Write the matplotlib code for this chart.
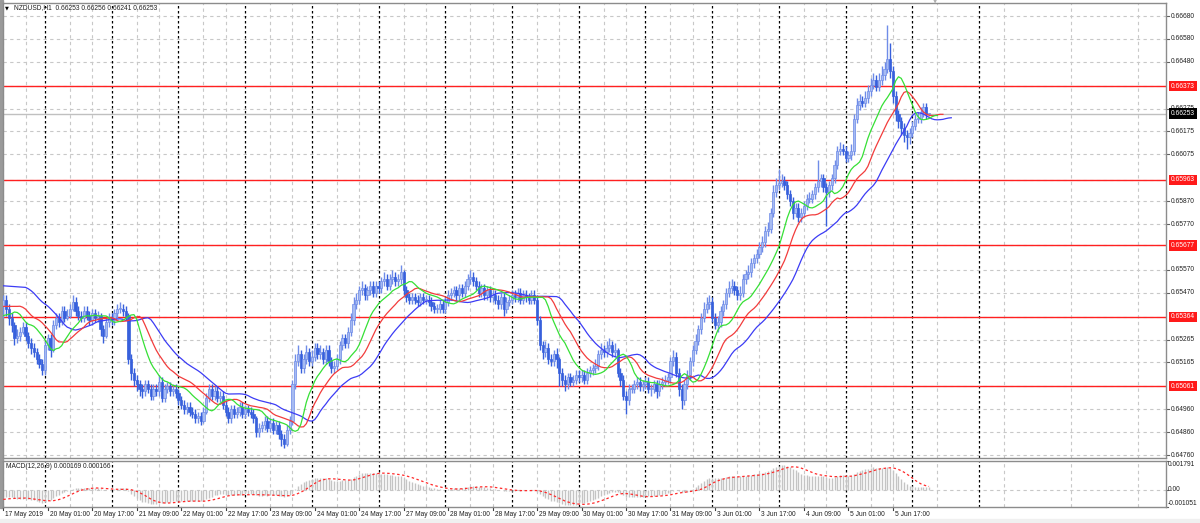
import numpy as np
import matplotlib
matplotlib.use("Agg")
import matplotlib.pyplot as plt
import matplotlib.transforms as mtransforms
from matplotlib.patches import Rectangle

plt.rcParams['font.family'] = ['Liberation Sans', 'DejaVu Sans']

# NZDUSD H1, 17 May 2019 09:00 .. 6 Jun 2019
first_open = 0.6541
closes = [
    .6544, .6540, .6536, .6533, .6527, .6528, .6530, .6532, .6528, .6525,
    .6523, .6521, .6518, .6516, .6513, .6524, .6527, .6522, .6533, .6536,
    .6534, .6539, .6536, .6537, .6540, .6543, .6539, .6537, .6536, .6539,
    .6537, .6535, .6538, .6536, .6537, .6531, .6528, .6534, .6536, .6535,
    .6538, .6540, .6540, .6539, .6537, .6518, .6512, .6509, .6507, .6505,
    .6504, .6507, .6505, .6502, .6505, .6504, .6508, .6501, .6505, .6506,
    .6504, .6505, .6503, .6500, .6498, .6496, .6497, .6495, .6494, .6492,
    .6493, .6491, .6495, .6501, .6505, .6502, .6504, .6501, .6502, .6498,
    .6495, .6492, .6496, .6494, .6495, .6497, .6494, .6496, .6495, .6494,
    .6492, .6486, .6488, .6489, .6491, .6488, .6490, .6487, .6489, .6485,
    .6483, .6481, .6487, .6491, .6507, .6517, .6520, .6514, .6518, .6521,
    .6517, .6519, .6523, .6520, .6521, .6518, .6522, .6517, .6514, .6515,
    .6518, .6524, .6527, .6525, .6530, .6535, .6542, .6544, .6548, .6549,
    .6546, .6548, .6550, .6547, .6550, .6549, .6552, .6553, .6550, .6553,
    .6554, .6552, .6553, .6556, .6548, .6545, .6544, .6545, .6544, .6543,
    .6545, .6544, .6544, .6543, .6541, .6540, .6540, .6542, .6540, .6543,
    .6546, .6547, .6548, .6546, .6549, .6547, .6550, .6553, .6554, .6552,
    .6550, .6547, .6549, .6546, .6548, .6545, .6546, .6544, .6542, .6545,
    .6540, .6543, .6544, .6546, .6545, .6547, .6544, .6546, .6545, .6544,
    .6546, .6544, .6535, .6524, .6521, .6523, .6518, .6517, .6520, .6518,
    .6512, .6509, .6507, .6510, .6508, .6509, .6511, .6510, .6511, .6509,
    .6512, .6513, .6514, .6515, .6520, .6522, .6521, .6523, .6524, .6521,
    .6522, .6512, .6509, .6502, .6500, .6505, .6505, .6507, .6508, .6506,
    .6507, .6508, .6505, .6505, .6507, .6504, .6507, .6508, .6509, .6510,
    .6517, .6519, .6512, .6505, .6500, .6507, .6511, .6517, .6522, .6526,
    .6531, .6536, .6540, .6542, .6543, .6536, .6533, .6534, .6539, .6542,
    .6547, .6549, .6550, .6548, .6546, .6547, .6553, .6555, .6556, .6560,
    .6562, .6564, .6567, .6569, .6574, .6575, .6582, .6591, .6594, .6595,
    .6596, .6594, .6590, .6587, .6582, .6584, .6580, .6582, .6585, .6588,
    .6588, .6590, .6593, .6596, .6597, .6593, .6591, .6594, .6597, .6603,
    .6609, .6610, .6609, .6606, .6607, .6609, .6623, .6629, .6631, .6630,
    .6632, .6635, .6638, .6640, .6637, .6640, .6642, .6645, .6649, .6644,
    .6633, .6625, .6622, .6619, .6616, .6615, .6617, .6620, .6623, .6623,
    .6626, .6628, .66253, .66253,
]
highs = [
    .6546, .6546, .6542, .6538, .6534, .6531, .6532, .6534, .6534, .6530,
    .6527, .6525, .6523, .6520, .6518, .6526, .6529, .6529, .6535, .6538,
    .6538, .6541, .6541, .6540, .6542, .6546, .6545, .6541, .6539, .6541,
    .6541, .6539, .6540, .6540, .6539, .6538, .6533, .6536, .6538, .6538,
    .6540, .6542, .6543, .6542, .6541, .6538, .6520, .6514, .6511, .6509,
    .6507, .6509, .6509, .6507, .6507, .6507, .6511, .6510, .6507, .6508,
    .6508, .6507, .6507, .6505, .6502, .6500, .6499, .6499, .6497, .6496,
    .6495, .6495, .6497, .6503, .6507, .6507, .6506, .6506, .6504, .6504,
    .6500, .6497, .6498, .6498, .6497, .6499, .6499, .6498, .6498, .6497,
    .6496, .6493, .6490, .6491, .6493, .6493, .6492, .6492, .6491, .6491,
    .6487, .6485, .6489, .6493, .6509, .6520, .6524, .6522, .6520, .6524,
    .6523, .6522, .6525, .6525, .6524, .6523, .6524, .6524, .6519, .6517,
    .6520, .6526, .6529, .6529, .6532, .6538, .6545, .6547, .6550, .6552,
    .6551, .6550, .6552, .6552, .6552, .6552, .6554, .6556, .6555, .6555,
    .6557, .6556, .6555, .6559, .6557, .6550, .6547, .6547, .6547, .6546,
    .6547, .6547, .6546, .6546, .6545, .6543, .6542, .6544, .6544, .6545,
    .6548, .6549, .6550, .6550, .6551, .6551, .6552, .6555, .6557, .6556,
    .6554, .6552, .6551, .6551, .6550, .6550, .6548, .6548, .6546, .6547,
    .6547, .6545, .6546, .6548, .6548, .6549, .6549, .6548, .6548, .6547,
    .6548, .6548, .6546, .6537, .6526, .6526, .6525, .6520, .6522, .6523,
    .6519, .6514, .6511, .6512, .6512, .6511, .6513, .6513, .6513, .6513,
    .6514, .6515, .6516, .6518, .6522, .6525, .6524, .6526, .6527, .6526,
    .6525, .6523, .6514, .6511, .6504, .6507, .6507, .6509, .6510, .6510,
    .6509, .6510, .6510, .6507, .6509, .6509, .6509, .6510, .6511, .6512,
    .6519, .6522, .6521, .6514, .6507, .6509, .6513, .6519, .6524, .6529,
    .6533, .6538, .6543, .6545, .6546, .6545, .6538, .6537, .6541, .6544,
    .6549, .6552, .6553, .6552, .6550, .6550, .6555, .6557, .6559, .6562,
    .6564, .6566, .6569, .6572, .6576, .6578, .6584, .6594, .6597, .6601,
    .6599, .6598, .6596, .6592, .6589, .6586, .6586, .6584, .6587, .6590,
    .6591, .6592, .6595, .6605, .6599, .6599, .6595, .6596, .6599, .6605,
    .6611, .6613, .6612, .6611, .6609, .6612, .6625, .6632, .6634, .6633,
    .6635, .6638, .6641, .6643, .6642, .6643, .6646, .6648, .6664, .6656,
    .6646, .6635, .6627, .6624, .6621, .6618, .6619, .6622, .6625, .6626,
    .6628, .6630, .6630, .66256,
]
lows = [
    .6536, .6537, .6533, .6530, .6524, .6525, .6526, .6529, .6526, .6523,
    .6520, .6519, .6516, .6514, .6511, .6511, .6522, .6519, .6521, .6531,
    .6532, .6533, .6534, .6535, .6536, .6539, .6537, .6535, .6534, .6534,
    .6535, .6533, .6533, .6534, .6534, .6528, .6525, .6527, .6532, .6533,
    .6533, .6536, .6538, .6537, .6535, .6516, .6509, .6506, .6504, .6502,
    .6501, .6502, .6503, .6500, .6500, .6502, .6502, .6499, .6499, .6503,
    .6502, .6502, .6501, .6498, .6496, .6494, .6494, .6493, .6492, .6490,
    .6490, .6489, .6490, .6494, .6499, .6500, .6500, .6499, .6499, .6496,
    .6493, .6490, .6490, .6492, .6492, .6493, .6492, .6492, .6493, .6492,
    .6490, .6484, .6484, .6486, .6487, .6486, .6486, .6485, .6485, .6483,
    .6480, .6479, .6480, .6485, .6489, .6505, .6515, .6512, .6512, .6516,
    .6515, .6515, .6517, .6518, .6518, .6516, .6516, .6515, .6512, .6512,
    .6513, .6516, .6522, .6523, .6523, .6528, .6533, .6540, .6542, .6546,
    .6544, .6544, .6546, .6545, .6545, .6547, .6547, .6550, .6548, .6548,
    .6551, .6550, .6550, .6551, .6546, .6543, .6542, .6542, .6542, .6541,
    .6541, .6542, .6542, .6541, .6539, .6538, .6538, .6538, .6538, .6538,
    .6541, .6544, .6545, .6544, .6544, .6545, .6545, .6548, .6551, .6550,
    .6548, .6545, .6545, .6544, .6544, .6543, .6543, .6542, .6540, .6540,
    .6537, .6538, .6541, .6542, .6543, .6543, .6542, .6542, .6543, .6542,
    .6542, .6542, .6533, .6522, .6518, .6519, .6516, .6515, .6515, .6514,
    .6506, .6506, .6504, .6505, .6506, .6506, .6507, .6508, .6508, .6507,
    .6507, .6510, .6511, .6512, .6513, .6518, .6519, .6519, .6521, .6519,
    .6519, .6510, .6506, .6500, .6494, .6498, .6503, .6503, .6505, .6504,
    .6504, .6505, .6503, .6502, .6503, .6501, .6502, .6505, .6506, .6507,
    .6508, .6515, .6510, .6502, .6496, .6498, .6505, .6509, .6515, .6520,
    .6524, .6529, .6534, .6538, .6540, .6534, .6531, .6530, .6532, .6537,
    .6540, .6545, .6547, .6546, .6544, .6544, .6545, .6551, .6553, .6554,
    .6558, .6560, .6562, .6565, .6567, .6572, .6573, .6580, .6589, .6592,
    .6593, .6592, .6588, .6585, .6579, .6580, .6578, .6578, .6580, .6583,
    .6586, .6586, .6588, .6591, .6593, .6591, .6576, .6589, .6592, .6595,
    .6601, .6607, .6607, .6604, .6604, .6605, .6607, .6621, .6627, .6628,
    .6628, .6630, .6633, .6636, .6635, .6635, .6638, .6640, .6643, .6641,
    .6630, .6622, .6619, .6616, .6613, .6610, .6612, .6615, .6618, .6621,
    .6621, .6624, .6623, .66241,
]

# starting values of the indicator lines at the left edge of the chart
jaw_seed, teeth_seed, lips_seed = 0.6550, 0.6541, 0.6537
ema12_seed, ema26_seed, signal_seed = 0.6541, 0.6546, -0.0006

price_ticks = [0.66680, 0.66580, 0.66480, 0.66373, 0.66275, 0.66175, 0.66075,
               0.65963, 0.65870, 0.65770, 0.65677, 0.65570, 0.65470, 0.65364,
               0.65265, 0.65165, 0.65061, 0.64960, 0.64860, 0.64760]
levels = [0.66373, 0.65963, 0.65677, 0.65364, 0.65061]
bid = 0.66253
macd_ticks = [0.001791, 0.0, -0.001051]
macd_tick_labels = ['0.001791', '0.00', '-0.001051']

xtick_labels = ["17 May 2019", "20 May 01:00", "20 May 17:00", "21 May 09:00",
                "22 May 01:00", "22 May 17:00", "23 May 09:00", "24 May 01:00",
                "24 May 17:00", "27 May 09:00", "28 May 01:00", "28 May 17:00",
                "29 May 09:00", "30 May 01:00", "30 May 17:00", "31 May 09:00",
                "3 Jun 01:00", "3 Jun 17:00", "4 Jun 09:00", "5 Jun 01:00",
                "5 Jun 17:00"]
day_starts = [15, 39, 63, 87, 111, 135, 159, 183, 207, 231, 255, 279, 303, 327, 351]

title = "NZDUSD,H1  0.66253 0.66256 0.66241 0.66253"
macd_title = "MACD(12,26,9) 0.000169 0.000166"

# ---------------------------------------------------------------- indicators
c = np.array(closes)
o = np.array([first_open] + closes[:-1])
h = np.array(highs)
l = np.array(lows)
n = len(c)
bars = np.arange(n)
median = (h + l) / 2


def smma(values, period, seed):
    out, prev = [], seed
    for v in values:
        prev = (prev * (period - 1) + v) / period
        out.append(prev)
    return np.array(out)


def ema(values, period, seed):
    k = 2.0 / (period + 1)
    out, prev = [], seed
    for v in values:
        prev = prev + k * (v - prev)
        out.append(prev)
    return np.array(out)


jaw = smma(median, 13, jaw_seed)
teeth = smma(median, 8, teeth_seed)
lips = smma(median, 5, lips_seed)
macd = ema(c, 12, ema12_seed) - ema(c, 26, ema26_seed)
signal = np.convolve(np.concatenate([np.full(8, signal_seed), macd]), np.ones(9) / 9, mode='valid')

# ---------------------------------------------------------------- layout
W, H = 1200, 523
fig = plt.figure(figsize=(12, 5.23), dpi=100)
fig.patch.set_facecolor('white')


def fx(px):
    return px / W


def fy(py):
    return 1 - py / H


ax = fig.add_axes([fx(3), fy(458), fx(1166) - fx(3), fy(3) - fy(458)])
mx = fig.add_axes([fx(3), fy(507), fx(1166) - fx(3), fy(461) - fy(507)])

px_per_bar = 2.78
x0 = (3 - 3.3) / px_per_bar
x1 = (1166 - 3.3) / px_per_bar
for a in (ax, mx):
    a.set_xlim(x0, x1)
    a.set_xticks([])
    a.set_yticks([])
    for s in a.spines.values():
        s.set_color('#8c8c8c')
        s.set_linewidth(1.0)
ax.set_ylim(0.6675 - 458 * 4.3736e-5, 0.6675 - 3 * 4.3736e-5)
mx.set_ylim(-0.001051, 0.001791)

# grid and period separators
grid_color = '#c8c8c8'
vgrid = [b for b in range(0, 340, 8) if b % 24 != 16] + [360, 384, 408]
for a in (ax, mx):
    for b in vgrid:
        a.axvline(b, color=grid_color, lw=0.8, ls=(0, (3, 3)), zorder=0)
    for b in day_starts:
        a.axvline(b, color='black', lw=0.9, ls=(0, (2, 2)), zorder=1)
for v in price_ticks:
    ax.axhline(v, color=grid_color, lw=0.8, ls=(0, (3, 3)), zorder=0)
mx.axhline(0, color=grid_color, lw=0.8, ls=(0, (3, 3)), zorder=0)

ax.axhline(bid, color='#c0c0c0', lw=1.0, zorder=1)
for lv in levels:
    ax.axhline(lv, color='#ff2020', lw=1.0, zorder=2)

# candles
bull = c >= o
wick_col = np.where(bull, '#6f8ce8', '#3760dc')
ax.vlines(bars, l, h, colors=wick_col, lw=1.0, zorder=3)
body_bottom = np.minimum(o, c)
body_h = np.maximum(np.abs(c - o), 0.00002)
ax.bar(bars, body_h, bottom=body_bottom, width=0.8,
       color=np.where(bull, '#a6bbf2', '#3760dc'),
       edgecolor=np.where(bull, '#6f8ce8', '#3760dc'), linewidth=0.5, zorder=4)

# alligator
ax.plot(np.concatenate([[0], bars + 8]), np.concatenate([[jaw_seed], jaw]), color='#3c3cf5', lw=0.9, zorder=5)
ax.plot(np.concatenate([[0], bars + 5]), np.concatenate([[teeth_seed], teeth]), color='#f23c3c', lw=0.9, zorder=5)
ax.plot(np.concatenate([[0], bars + 3]), np.concatenate([[lips_seed], lips]), color='#36e036', lw=0.9, zorder=5)

# macd
mx.vlines(bars, 0, macd, colors='#c4c4c4', lw=1.0, zorder=2)
mx.plot(bars, signal, color='#ff2a2a', lw=0.9, ls=(0, (2, 2)), zorder=3)

# ---------------------------------------------------------------- labels
fs = 4.8
tr_main = mtransforms.blended_transform_factory(fig.transFigure, ax.transData)
for v in price_ticks:
    if v in levels:
        continue
    ax.text(fx(1171), v, f"{v:.5f}", transform=tr_main, fontsize=fs, va='center',
            ha='left', color='#202020', clip_on=False)
    ax.plot([fx(1166), fx(1169)], [v, v], transform=tr_main, color='#606060', lw=0.8, clip_on=False)
for lv in levels:
    ax.text(fx(1171), lv, f"{lv:.5f}", transform=tr_main, fontsize=fs, va='center', ha='left',
            color='white', clip_on=False, zorder=10,
            bbox=dict(boxstyle='square,pad=0.25', fc='#ff1a1a', ec='none'))
ax.text(fx(1171), bid, f"{bid:.5f}", transform=tr_main, fontsize=fs, va='center', ha='left',
        color='white', clip_on=False, zorder=11,
        bbox=dict(boxstyle='square,pad=0.25', fc='black', ec='none'))

tr_macd = mtransforms.blended_transform_factory(fig.transFigure, mx.transData)
for v, lab, va in zip(macd_ticks, macd_tick_labels, ['top', 'center', 'bottom']):
    mx.text(fx(1168), v, lab, transform=tr_macd, fontsize=fs, va=va, ha='left',
            color='#202020', clip_on=False)
    mx.plot([fx(1166), fx(1168)], [v, v], transform=tr_macd, color='#606060', lw=0.8, clip_on=False)

tr_x = mtransforms.blended_transform_factory(mx.transData, fig.transFigure)
for k, lab in enumerate(xtick_labels):
    b = k * 16
    mx.plot([b, b], [fy(507), fy(510)], transform=tr_x, color='#404040', lw=0.8, clip_on=False)
    mx.text(b + 0.7, fy(514), lab, transform=tr_x, fontsize=fs, va='center', ha='left',
            color='#202020', clip_on=False)

fig.text(fx(5), fy(8), "\u25bc", fontsize=3.6, va='center', ha='left', color='black',
         family='DejaVu Sans')
fig.text(fx(14), fy(8), title, fontsize=fs, va='center', ha='left', color='#202020')
fig.text(fx(6), fy(467), macd_title, fontsize=fs, va='center', ha='left', color='#202020')

# frame decorations of the terminal window
fig.patches.append(Rectangle((0, fy(508)), fx(3), 1 - fy(508), transform=fig.transFigure,
                             color='#9a9a9a', zorder=-1))
fig.patches.append(Rectangle((0, 0), 1, fy(519), transform=fig.transFigure,
                             color='#f0f0f0', zorder=-1))
fig.text(fx(935), fy(2), "\u25bc", fontsize=4, va='center', ha='center', color='#b0b0b0',
         family='DejaVu Sans')

fig.savefig("out.png", dpi=100)
